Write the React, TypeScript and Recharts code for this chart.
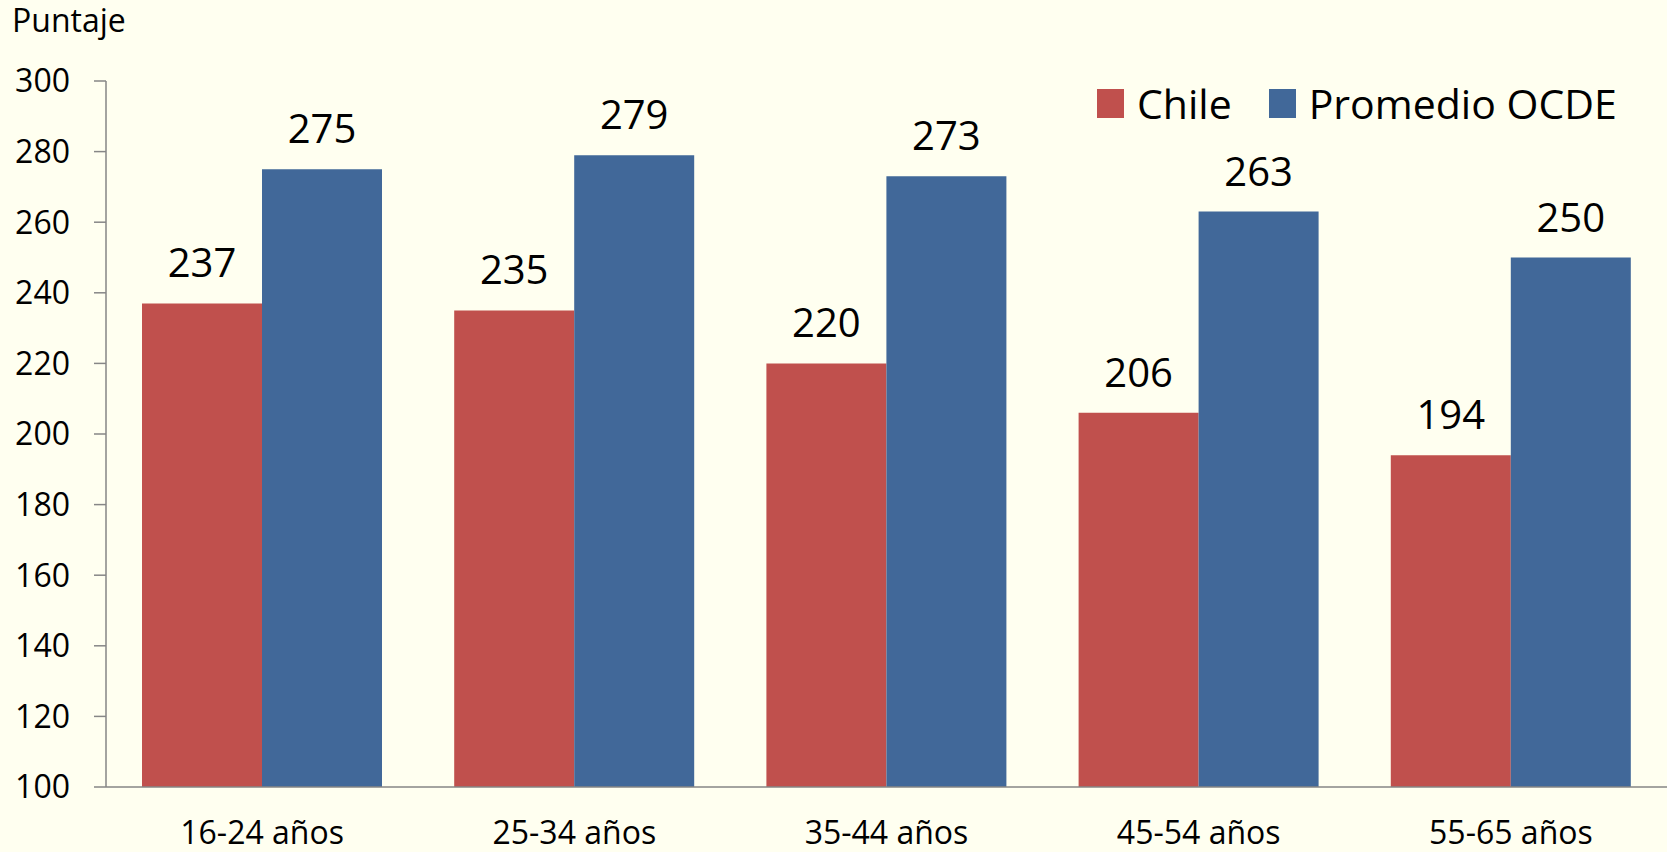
import React from "react";
import { BarChart, Bar, XAxis, YAxis, LabelList } from "recharts";

const categories = ["16-24 años", "25-34 años", "35-44 años", "45-54 años", "55-65 años"];
const chileValues = [237, 235, 220, 206, 194];
const ocdeValues = [275, 279, 273, 263, 250];
const yTicks = [100, 120, 140, 160, 180, 200, 220, 240, 260, 280, 300];
const seriesNames = ["Chile", "Promedio OCDE"];
const seriesColors = ["#C0504D", "#416899"];

const data = categories.map((c, i) => ({ name: c, chile: chileValues[i], ocde: ocdeValues[i] }));

const FONT = "'Open Sans', 'Noto Sans', sans-serif";
const BG = "#FFFFF0";

export default function App() {
  return (
    <div style={{ position: "relative", width: 1667, height: 852, background: BG, fontFamily: FONT }}>
      <style>{`body{margin:0;background:${BG};}`}</style>
      <BarChart
        width={1667}
        height={852}
        data={data}
        margin={{ top: 81, right: 0, bottom: 0, left: 0 }}
        barGap={0}
        barSize={120}
      >
        <XAxis
          dataKey="name"
          height={65}
          tickSize={0}
          tickMargin={34}
          tickLine={false}
          axisLine={{ stroke: "#868686", strokeWidth: 1.5 }}
          tick={{ fill: "#000", fontSize: 32, fontFamily: FONT }}
          interval={0}
        />
        <YAxis
          width={106}
          domain={[100, 300]}
          ticks={yTicks}
          allowDataOverflow
          tickSize={12}
          tickMargin={24}
          axisLine={{ stroke: "#868686", strokeWidth: 1.5 }}
          tickLine={{ stroke: "#868686", strokeWidth: 1.5 }}
          tick={{ fill: "#000", fontSize: 32, fontFamily: FONT }}
        />
        <Bar dataKey="chile" name={seriesNames[0]} fill={seriesColors[0]} isAnimationActive={false}>
          <LabelList dataKey="chile" position="top" offset={26} fill="#000" fontSize={40} fontFamily={FONT} />
        </Bar>
        <Bar dataKey="ocde" name={seriesNames[1]} fill={seriesColors[1]} isAnimationActive={false}>
          <LabelList dataKey="ocde" position="top" offset={26} fill="#000" fontSize={40} fontFamily={FONT} />
        </Bar>
      </BarChart>
      <div style={{ position: "absolute", left: 12, top: 0, fontSize: 32, lineHeight: "40px", color: "#000" }}>Puntaje</div>
      <div style={{ position: "absolute", left: 1097, top: 78, display: "flex", alignItems: "center", fontSize: 41, lineHeight: "50px", color: "#000" }}>
        {seriesNames.map((n, i) => (
          <div key={n} style={{ display: "flex", alignItems: "center", marginRight: i === 0 ? 37 : 0 }}>
            <span style={{ display: "inline-block", width: 27, height: 29, background: seriesColors[i], marginRight: 13 }} />
            <span>{n}</span>
          </div>
        ))}
      </div>
    </div>
  );
}
